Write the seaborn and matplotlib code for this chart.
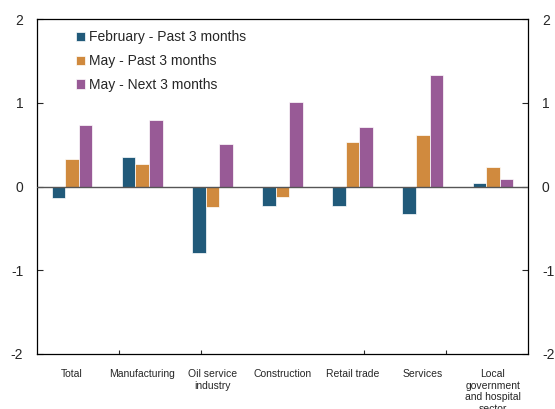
import seaborn as sns
import pandas as pd
import numpy as np
import matplotlib.pyplot as plt

# Data
sectors = ['Total', 'Manufacturing', 'Oil service\nindustry', 'Construction',
           'Retail trade', 'Services', 'Local\ngovernment\nand hospital\nsector']
feb_past = [-0.14, 0.35, -0.80, -0.23, -0.235, -0.33, 0.045]
may_past = [0.33, 0.27, -0.25, -0.13, 0.53, 0.61, 0.235]
may_next = [0.73, 0.79, 0.51, 1.01, 0.71, 1.33, 0.09]
series = ['February - Past 3 months', 'May - Past 3 months', 'May - Next 3 months']
colors = ['#215a7a', '#d08a3e', '#985a96']

df = pd.DataFrame({
    'sector': sectors * 3,
    'value': feb_past + may_past + may_next,
    'series': [s for s in series for _ in sectors],
})

sns.set_style('white')
plt.rcParams['font.family'] = ['Liberation Sans', 'DejaVu Sans']
plt.rcParams['axes.unicode_minus'] = False

fig = plt.figure(figsize=(5.55, 4.09), dpi=100)
ax = fig.add_axes([0.0667, 0.1345, 0.8847, 0.819])

sns.barplot(data=df, x='sector', y='value', hue='series', palette=colors,
            saturation=1, width=0.58, edgecolor='white', linewidth=0.5, ax=ax)

ax.axhline(0, color='#555555', lw=1, zorder=3)
ax.set_ylim(-2, 2)
ax.set_xlim(-0.5, len(sectors) - 0.5)
ax.set_yticks([-2, -1, 0, 1, 2])
ax.set_xlabel('')
ax.set_ylabel('')

for s in ax.spines.values():
    s.set_visible(True)
    s.set_color('black')
    s.set_linewidth(0.9)

ax.tick_params(axis='y', direction='in', length=4, width=0.8, labelsize=10,
               left=True, right=True, labelleft=True, labelright=True, pad=10)
ax.tick_params(axis='x', which='major', length=0, labelsize=7.5, pad=11)
for lab in ax.get_xticklabels():
    lab.set_linespacing(1.2)
ax.set_xticks(-0.5 + np.arange(1, 6) * len(sectors) / 6, minor=True)
ax.tick_params(axis='x', which='minor', direction='in', length=3, width=0.8, bottom=True)

leg = ax.legend(loc='upper left', bbox_to_anchor=(0.06, 0.995), frameon=False,
                fontsize=10, handlelength=0.65, handleheight=0.65, handletextpad=0.25,
                labelspacing=0.7, borderaxespad=0.3)

fig.savefig('out.png', dpi=100)
